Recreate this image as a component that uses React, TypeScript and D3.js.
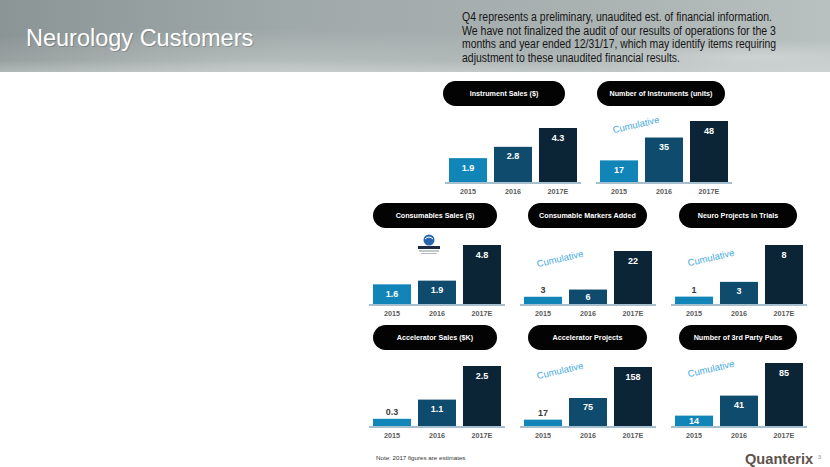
import React from "react";
import * as d3 from "d3";

// ---------- data ----------
const years = ["2015", "2016", "2017E"];
const panelTitles = [
  "Instrument Sales ($)",
  "Number of Instruments (units)",
  "Consumables Sales ($)",
  "Consumable Markers Added",
  "Neuro Projects in Trials",
  "Accelerator Sales ($K)",
  "Accelerator Projects",
  "Number of 3rd Party Pubs",
];
const instrumentSales = [1.9, 2.8, 4.3];
const instrumentUnits = [17, 35, 48];
const consumablesSales = [1.6, 1.9, 4.8];
const markersAdded = [3, 6, 22];
const neuroProjects = [1, 3, 8];
const acceleratorSales = [0.3, 1.1, 2.5];
const acceleratorProjects = [17, 75, 158];
const thirdPartyPubs = [14, 41, 85];
const cumulativePanels = [false, true, false, true, true, false, true, true];
const decimalPanels = [true, false, true, false, false, true, false, false];

const titleText = "Neurology Customers";
const disclaimerLines = [
  "Q4 represents a preliminary, unaudited est. of financial information.",
  "We have not finalized the audit of our results of operations for the 3",
  "months and year ended 12/31/17, which may identify items requiring",
  "adjustment to these unaudited financial results.",
];
const noteText = "Note: 2017 figures are estimates";
const brandText = "Quanterix";
const pageNum = "3";

const seriesValues = [
  instrumentSales,
  instrumentUnits,
  consumablesSales,
  markersAdded,
  neuroProjects,
  acceleratorSales,
  acceleratorProjects,
  thirdPartyPubs,
];

// ---------- layout (positions / sizes only) ----------
const panelX0 = [449, 600, 373, 524, 675, 373, 524, 675];
const panelBase = [182, 182, 304, 304, 304, 426, 426, 426];
const panelMaxPx = [54, 61, 59, 53, 59, 60, 59, 63];
const pillCx = [504, 661, 435, 587.5, 738, 435, 587.5, 738];
const pillW = [122, 128, 124, 119, 118, 124, 119, 118];
const cumOffY = [0, -57, 0, -45, -46, 0, -55, -57];
const disclaimerW = [310, 314, 314, 218];

const barColors = ["#1185b8", "#0e4b6c", "#0b2537"];

export default function App() {
  const fmt1 = d3.format(".1f");
  const fmt0 = d3.format("d");

  const panels = seriesValues.map((vals, i) => {
    const x0 = panelX0[i];
    const base = panelBase[i];
    const xs = d3
      .scaleBand<string>()
      .domain(years)
      .range([x0, x0 + 128])
      .paddingInner(0.155)
      .paddingOuter(0);
    const ys = d3
      .scaleLinear()
      .domain([0, d3.max(vals) as number])
      .range([0, panelMaxPx[i]]);
    const f = decimalPanels[i] ? fmt1 : fmt0;
    return (
      <g key={i}>
        <rect
          x={pillCx[i] - pillW[i] / 2}
          y={base - 101}
          width={pillW[i]}
          height={25}
          rx={12.5}
          fill="#030303"
        />
        <text
          x={pillCx[i]}
          y={base - 101 + 15.3}
          textAnchor="middle"
          fill="#ffffff"
          fontSize={7.2}
          fontWeight="bold"
        >
          {panelTitles[i]}
        </text>
        {vals.map((v, j) => {
          const h = ys(v);
          const x = xs(years[j]) as number;
          const bw = xs.bandwidth();
          const top = base - h;
          let ly: number;
          let lc = "#ffffff";
          if (h >= 18) ly = top + 12.5;
          else if (h >= 10) ly = top + h / 2 + 3.2;
          else {
            ly = top - 4;
            lc = "#3b3b3b";
          }
          return (
            <g key={j}>
              <rect x={x} y={top} width={bw} height={h} fill={barColors[j]} />
              <text
                x={x + bw / 2}
                y={ly}
                textAnchor="middle"
                fill={lc}
                fontSize={9}
                fontWeight="bold"
              >
                {f(v)}
              </text>
              <text
                x={x + bw / 2}
                y={base + 12}
                textAnchor="middle"
                fill="#5a5a5a"
                fontSize={7.2}
                fontWeight="bold"
              >
                {years[j]}
              </text>
            </g>
          );
        })}
        <line
          x1={x0 - 4}
          x2={x0 + 132}
          y1={base + 1}
          y2={base + 1}
          stroke="#a6bfcf"
          strokeWidth={2}
        />
        {cumulativePanels[i] && (
          <text
            transform={`translate(${x0 + 36},${base + cumOffY[i]}) rotate(-13)`}
            textAnchor="middle"
            dy={3}
            fill="#45aadd"
            fontSize={9.5}
          >
            Cumulative
          </text>
        )}
      </g>
    );
  });

  return (
    <svg
      width={830}
      height={467}
      style={{ position: "absolute", left: 0, top: 0, display: "block" }}
      fontFamily="'Liberation Sans', Arial, Helvetica, sans-serif"
    >
      <defs>
        <linearGradient id="hdr" x1="0" x2="1" y1="0" y2="0">
          <stop offset="0" stopColor="#8c9595" />
          <stop offset="0.35" stopColor="#a0a9a9" />
          <stop offset="0.7" stopColor="#a9b1b1" />
          <stop offset="1" stopColor="#b9c0c0" />
        </linearGradient>
        <radialGradient id="glow" cx="0.3" cy="0.9" r="0.5">
          <stop offset="0" stopColor="#ffffff" stopOpacity="0.25" />
          <stop offset="1" stopColor="#ffffff" stopOpacity="0" />
        </radialGradient>
        <radialGradient id="glow2" cx="0.9" cy="0.8" r="0.25">
          <stop offset="0" stopColor="#ffffff" stopOpacity="0.35" />
          <stop offset="1" stopColor="#ffffff" stopOpacity="0" />
        </radialGradient>
        <linearGradient id="fade" x1="0" x2="0" y1="0" y2="1">
          <stop offset="0" stopColor="#ffffff" stopOpacity="0" />
          <stop offset="1" stopColor="#ffffff" stopOpacity="0.25" />
        </linearGradient>
      </defs>
      <rect x={0} y={0} width={830} height={467} fill="#ffffff" />
      <rect x={0} y={0} width={830} height={72} fill="url(#hdr)" />
      <rect x={0} y={0} width={830} height={72} fill="url(#glow)" />
      <rect x={0} y={0} width={830} height={72} fill="url(#glow2)" />
      <rect x={0} y={60} width={830} height={12} fill="url(#fade)" />
      <text x={27} y={46.5} fill="#000" opacity={0.18} fontSize={23.5}>
        {titleText}
      </text>
      <text x={26} y={45.5} fill="#ffffff" fontSize={23.5}>
        {titleText}
      </text>
      {disclaimerLines.map((l, i) => (
        <text
          key={i}
          x={462}
          y={21 + i * 13.6}
          fill="#161616"
          fontSize={12}
          textLength={disclaimerW[i]}
          lengthAdjust="spacingAndGlyphs"
          fontFamily="'Liberation Sans Narrow', 'Arial Narrow', 'Liberation Sans', Arial, sans-serif"
        >
          {l}
        </text>
      ))}
      {panels}
      {/* small partner logo near consumables */}
      <g>
        <circle cx={429} cy={240} r={5.5} fill="#2a66b0" />
        <path d="M425,239 q4,-4 8,0" stroke="#ffffff" strokeWidth={1} fill="none" />
        <rect x={418} y={246} width={22} height={3} fill="#1d2a44" />
        <rect x={419} y={250.5} width={20} height={1} fill="#8090a0" />
        <rect x={421} y={253} width={16} height={0.8} fill="#a0a8b0" />
      </g>
      <text x={376} y={460} fill="#333" fontSize={6.2}>
        {noteText}
      </text>
      <text x={745} y={464} fill="#5e534c" fontSize={14.6} fontWeight="bold">
        {brandText}
      </text>
      <text x={818} y={459} fill="#8a8a8a" fontSize={5.5}>
        {pageNum}
      </text>
    </svg>
  );
}
